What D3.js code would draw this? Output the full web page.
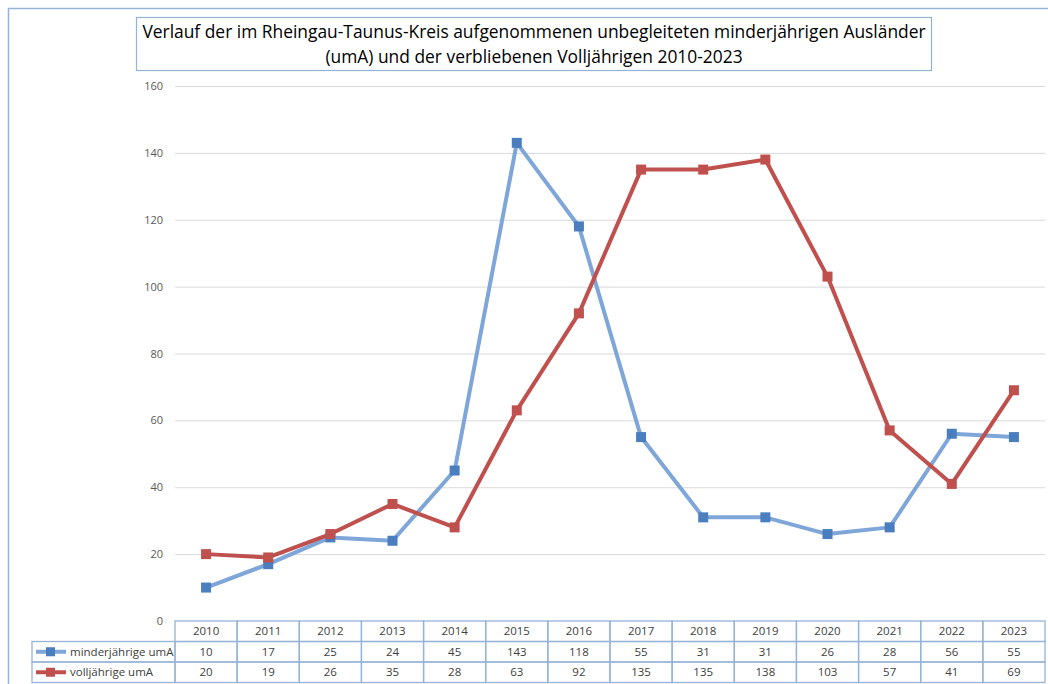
<!doctype html>
<html lang="de">
<head>
  <meta charset="utf-8">
  <script src="https://d3js.org/d3.v7.min.js"></script>
  <style>
    body { margin: 0; background: #fff; }
    svg { display: block; font-family: "Open Sans", "Liberation Sans", sans-serif; }
  </style>
</head>
<body>
  <script>
    // chart data
    var years = ["2010", "2011", "2012", "2013", "2014", "2015", "2016",
                 "2017", "2018", "2019", "2020", "2021", "2022", "2023"];
    var minderjaehrige = [10, 17, 25, 24, 45, 143, 118, 55, 31, 31, 26, 28, 56, 55];
    var volljaehrige = [20, 19, 26, 35, 28, 63, 92, 135, 135, 138, 103, 57, 41, 69];
    var seriesNames = ["minderjährige umA", "volljährige umA"];
    var yTicks = [0, 20, 40, 60, 80, 100, 120, 140, 160];
    var titleLines = ["Verlauf der im Rheingau-Taunus-Kreis aufgenommenen unbegleiteten minderjährigen Ausländer",
                      "(umA) und der verbliebenen Volljährigen 2010-2023"];

    var width = 1048,
        height = 684;

    var margin = {left: 175, right: 3, top: 86, bottom: 63};

    var lineColors = ["#7ea6d8", "#c0504d"];
    var markerColors = ["#4a7ebf", "#c0504d"];
    var borderColor = "#95b3d7";

    var svg = d3.select("body").append("svg")
        .attr("width", width)
        .attr("height", height);

    // outer chart frame (cut off right and bottom)
    svg.append("rect")
        .attr("x", 8.5).attr("y", 8.5)
        .attr("width", width + 10).attr("height", height + 10)
        .style("fill", "none")
        .style("stroke", borderColor)
        .style("stroke-width", 1.5);

    var x = d3.scaleBand()
        .domain(years)
        .range([margin.left, width - margin.right]);

    var y = d3.scaleLinear()
        .domain([0, 160])
        .range([height - margin.bottom, margin.top]);

    // gridlines
    svg.append("g")
      .selectAll("line")
        .data(yTicks.filter(function(d) { return d > 0; }))
      .enter().append("line")
        .attr("x1", margin.left).attr("x2", width - margin.right)
        .attr("y1", function(d) { return y(d) + 0.5; })
        .attr("y2", function(d) { return y(d) + 0.5; })
        .style("stroke", "#d9d9d9")
        .style("stroke-width", 1);

    // y axis labels
    var yAxis = d3.axisLeft(y).tickValues(yTicks).tickSize(0).tickPadding(12);
    var gy = svg.append("g")
        .attr("transform", "translate(" + margin.left + ",0)")
        .call(yAxis);
    gy.select(".domain").remove();
    gy.selectAll("text")
        .style("font-size", "11px")
        .style("fill", "#595959")
        .style("font-family", "\"Open Sans\", sans-serif");

    // title box
    var title = svg.append("g");
    title.append("rect")
        .attr("x", 136.5).attr("y", 17.5)
        .attr("width", 795).attr("height", 53)
        .style("fill", "#fff")
        .style("stroke", borderColor)
        .style("stroke-width", 1.2);
    title.selectAll("text")
        .data(titleLines)
      .enter().append("text")
        .attr("x", 534)
        .attr("y", function(d, i) { return 37.5 + i * 25; })
        .attr("text-anchor", "middle")
        .style("font-size", "17.4px")
        .style("fill", "#000")
        .text(function(d) { return d; });

    // lines and markers
    var allSeries = [minderjaehrige, volljaehrige];
    var line = d3.line()
        .x(function(d, i) { return x(years[i]) + x.bandwidth() / 2; })
        .y(function(d) { return y(d); });

    allSeries.forEach(function(vals, s) {
      var g = svg.append("g");
      g.append("path")
          .datum(vals)
          .attr("d", line)
          .style("fill", "none")
          .style("stroke", lineColors[s])
          .style("stroke-width", 4)
          .style("stroke-linejoin", "round");
      g.selectAll("rect")
          .data(vals)
        .enter().append("rect")
          .attr("x", function(d, i) { return x(years[i]) + x.bandwidth() / 2 - 5; })
          .attr("y", function(d) { return y(d) - 5; })
          .attr("width", 10).attr("height", 10)
          .style("fill", markerColors[s]);
    });

    // data table
    var rowH = 20.5;
    var tableTop = height - margin.bottom;
    var legendLeft = 32;
    var table = svg.append("g")
        .style("font-size", "11.5px")
        .style("fill", "#404040");

    // header row
    years.forEach(function(yr) {
      table.append("rect")
          .attr("x", x(yr)).attr("y", tableTop)
          .attr("width", x.bandwidth()).attr("height", rowH)
          .style("fill", "none").style("stroke", borderColor).style("stroke-width", 1.3);
      table.append("text")
          .attr("x", x(yr) + x.bandwidth() / 2)
          .attr("y", tableTop + rowH / 2 + 4)
          .attr("text-anchor", "middle")
          .text(yr);
    });

    allSeries.forEach(function(vals, s) {
      var ry = tableTop + rowH * (s + 1);
      table.append("rect")
          .attr("x", legendLeft).attr("y", ry)
          .attr("width", margin.left - legendLeft).attr("height", rowH)
          .style("fill", "none").style("stroke", borderColor).style("stroke-width", 1.3);
      table.append("line")
          .attr("x1", legendLeft + 4).attr("x2", legendLeft + 34)
          .attr("y1", ry + rowH / 2).attr("y2", ry + rowH / 2)
          .style("stroke", lineColors[s]).style("stroke-width", 4);
      table.append("rect")
          .attr("x", legendLeft + 14).attr("y", ry + rowH / 2 - 4.5)
          .attr("width", 9).attr("height", 9)
          .style("fill", markerColors[s]);
      table.append("text")
          .attr("x", legendLeft + 38)
          .attr("y", ry + rowH / 2 + 4)
          .text(seriesNames[s]);
      vals.forEach(function(v, i) {
        table.append("rect")
            .attr("x", x(years[i])).attr("y", ry)
            .attr("width", x.bandwidth()).attr("height", rowH)
            .style("fill", "none").style("stroke", borderColor).style("stroke-width", 1.3);
        table.append("text")
            .attr("x", x(years[i]) + x.bandwidth() / 2)
            .attr("y", ry + rowH / 2 + 4)
            .attr("text-anchor", "middle")
            .text(v);
      });
    });
  </script>
</body>
</html>
